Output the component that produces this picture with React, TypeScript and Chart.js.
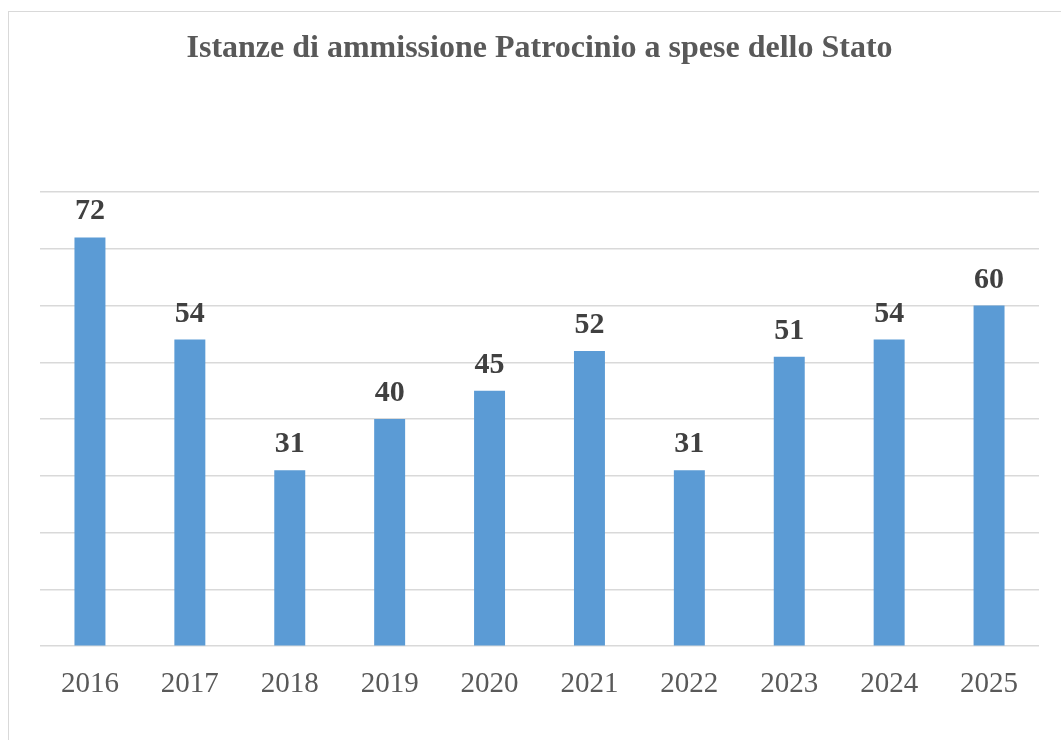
import React, { useEffect, useRef } from "react";
import { Chart, registerables } from "chart.js";

Chart.register(...registerables);

const categories: string[] = ["2016", "2017", "2018", "2019", "2020", "2021", "2022", "2023", "2024", "2025"];
const values: number[] = [72, 54, 31, 40, 45, 52, 31, 51, 54, 60];
const titleText = "Istanze di ammissione Patrocinio a spese dello Stato";

const SERIF = "'Liberation Serif', 'DejaVu Serif', serif";

const labelPlugin = {
  id: "barLabels",
  afterDatasetsDraw(chart: any) {
    const ctx = chart.ctx;
    const meta = chart.getDatasetMeta(0);
    ctx.save();
    ctx.font = `bold 30px ${SERIF}`;
    ctx.fillStyle = "#404040";
    ctx.textAlign = "center";
    ctx.textBaseline = "alphabetic";
    meta.data.forEach((el: any, i: number) => {
      ctx.fillText(String(values[i]), el.x, el.y - 18);
    });
    ctx.restore();
  },
};

export default function App() {
  const ref = useRef<HTMLCanvasElement | null>(null);
  useEffect(() => {
    if (!ref.current) return;
    const chart = new Chart(ref.current, {
      type: "bar",
      data: {
        labels: categories,
        datasets: [
          {
            data: values,
            backgroundColor: "#5b9bd5",
            borderWidth: 0,
            barPercentage: 0.62,
            categoryPercentage: 0.5,
          },
        ],
      },
      options: {
        responsive: false,
        animation: false,
        layout: { padding: { left: 40, right: 22, top: 0, bottom: 25 } },
        plugins: {
          legend: { display: false },
          tooltip: { enabled: false },
          title: {
            display: true,
            text: titleText,
            color: "#595959",
            font: { family: SERIF, size: 32, weight: "bold" },
            padding: { top: 30, bottom: 123.6 },
          },
        },
        scales: {
          x: {
            grid: { display: false },
            border: { display: false },
            ticks: {
              color: "#595959",
              font: { family: SERIF, size: 29 },
              padding: 13,
            },
          },
          y: {
            min: 0,
            max: 80,
            ticks: { display: false, stepSize: 10 },
            border: { display: false },
            grid: { color: "#d9d9d9", lineWidth: 1.5, drawTicks: false },
          },
        },
      },
      plugins: [labelPlugin],
    });
    return () => chart.destroy();
  }, []);

  return (
    <div style={{ position: "fixed", left: 0, top: 0, width: 1061, height: 740, overflow: "hidden", background: "#fff" }}>
      <div
        style={{
          position: "absolute",
          left: 8,
          top: 11,
          width: 1200,
          height: 1000,
          border: "1px solid #d9d9d9",
          boxSizing: "border-box",
        }}
      />
      <canvas ref={ref} width={1061} height={740} style={{ position: "absolute", left: 0, top: 0, width: 1061, height: 740 }} />
    </div>
  );
}
